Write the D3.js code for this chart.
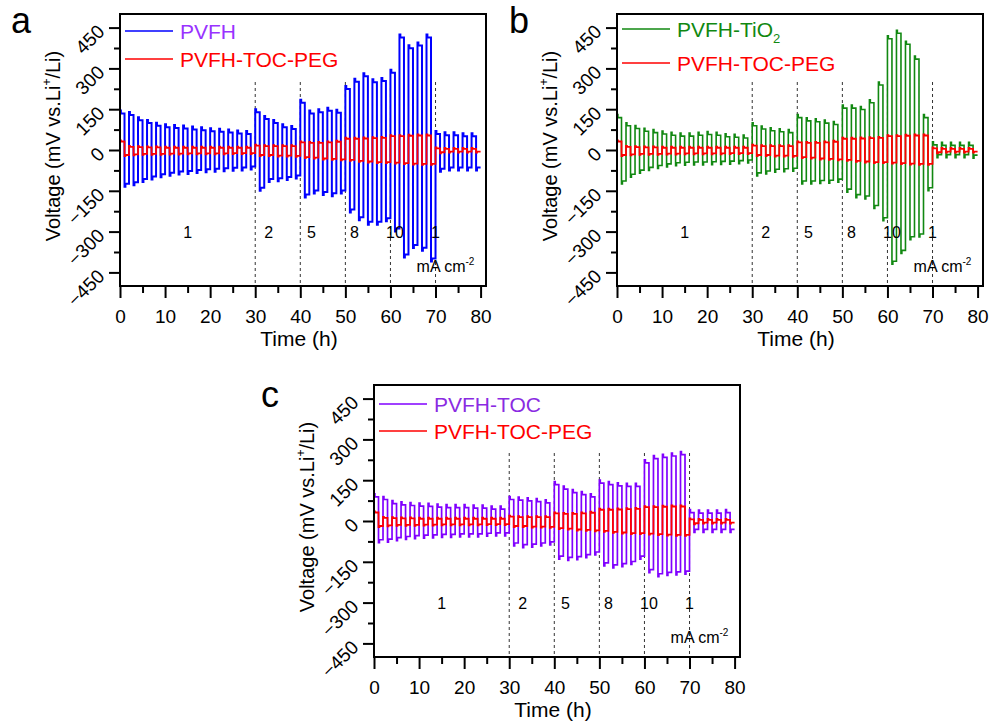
<!DOCTYPE html>
<html>
<head>
<meta charset="utf-8">
<script src="https://cdn.jsdelivr.net/npm/d3@7"></script>
<style>
  body { margin: 0; background: #ffffff; }
  text { font-family: "Liberation Sans", Arial, sans-serif; }
</style>
</head>
<body>
<svg id="mainsvg" width="993" height="724"></svg>
<script>

// axis ticks and rate annotations
const timeTicks = [0, 10, 20, 30, 40, 50, 60, 70, 80]
const timeMinor = [5, 15, 25, 35, 45, 55, 65, 75]
const voltTicks = [-450, -300, -150, 0, 150, 300, 450]
const voltMinor = [-375, -225, -75, 75, 225, 375]
const rateSwitch = [30, 40, 50, 60, 70]
const rateLabels = ["1", "2", "5", "8", "10", "1"]
const rateLabelTime = [15, 33, 42.5, 52, 61, 70]

// peak voltage (mV) of each charge / discharge half cycle, one cycle = 2 h
const pvfhUp = [145, 140, 120, 110, 100, 95, 92, 90, 86, 84, 80, 78, 75, 72, 70,
  150, 125, 110, 95, 88, 185, 145, 150, 155, 148, 235, 262, 282, 260, 265,
  295, 425, 385, 395, 425, 70, 65, 65, 62, 62]
const pvfhDown = [-135, -130, -118, -108, -100, -95, -90, -88, -85, -82, -80, -78, -76, -75, -72,
  -150, -118, -115, -110, -105, -175, -160, -165, -170, -160, -230, -258, -275, -275, -262,
  -300, -395, -360, -370, -410, -80, -75, -75, -75, -75]

const tio2Up = [130, 100, 90, 80, 75, 70, 65, 62, 62, 65, 68, 65, 60, 58, 55,
  100, 88, 82, 78, 75, 130, 118, 115, 110, 105, 165, 165, 160, 185, 250,
  420, 440, 400, 345, 130, 30, 28, 28, 28, 28]
const tio2Down = [-125, -100, -85, -75, -68, -62, -58, -56, -55, -55, -54, -53, -52, -50, -48,
  -95, -88, -82, -80, -78, -125, -125, -123, -122, -118, -155, -175, -180, -215, -260,
  -420, -380, -330, -320, -150, -28, -28, -28, -28, -30]

const tocUp = [100, 90, 75, 70, 68, 66, 65, 62, 60, 60, 60, 58, 58, 55, 55,
  90, 88, 85, 82, 78, 145, 128, 115, 108, 100, 150, 145, 140, 138, 138,
  225, 240, 245, 250, 255, 42, 40, 40, 40, 42]
const tocDown = [-80, -78, -72, -68, -65, -63, -62, -60, -60, -58, -58, -58, -56, -55, -55,
  -92, -98, -96, -92, -88, -140, -145, -142, -135, -125, -165, -172, -168, -160, -140,
  -190, -205, -200, -198, -195, -42, -42, -42, -42, -42]

const pegUp = [35, 15, 14, 13, 13, 12, 12, 12, 12, 12, 12, 12, 12, 12, 12,
  20, 18, 18, 18, 18, 32, 30, 30, 32, 34, 45, 45, 46, 47, 48,
  55, 55, 56, 57, 57, 10, 8, 8, 8, 8]
const pegDown = [-22, -20, -18, -18, -18, -17, -17, -16, -16, -16, -16, -16, -15, -15, -15,
  -22, -22, -24, -24, -25, -30, -32, -35, -36, -38, -40, -44, -46, -48, -48,
  -50, -52, -54, -55, -55, -12, -10, -10, -10, -10]

const WIDTH = 366, HEIGHT = 272

const PEG = {name: "PVFH-TOC-PEG", up: pegUp, down: pegDown, color: "#FF0000", text: "#FF0000", lw: 1.8, hook: 1}

const PANELS = [
  {letter: "a", left: 120, top: 14, lx: -109, ly: 19, legY: [17, 45], textY: [25, 53],
   main: {name: "PVFH", up: pvfhUp, down: pvfhDown, color: "#0000FF", text: "#9933FF", lw: 2, hook: 3}},
  {letter: "b", left: 617, top: 14, lx: -108, ly: 19, legY: [15, 49], textY: [23, 57],
   main: {name: "PVFH-TiO", sub: "2", up: tio2Up, down: tio2Down, color: "#118811", text: "#118811", lw: 1.6, hook: 3}},
  {letter: "c", left: 374, top: 385, lx: -113, ly: 22, legY: [19, 46], textY: [27, 54],
   main: {name: "PVFH-TOC", up: tocUp, down: tocDown, color: "#8000FF", text: "#8A2BE2", lw: 1.7, hook: 3}}
]

function stepPoints (s) {
  let pts = []
  s.up.forEach((u, i) => {
    let t0 = i * 2
    let d = s.down[i]
    pts.push({t: t0, v: u, dy: 0}, {t: t0 + 0.2, v: u, dy: 0},
             {t: t0 + 0.2, v: u, dy: s.hook}, {t: t0 + 1, v: u, dy: s.hook})
    pts.push({t: t0 + 1, v: d, dy: 0}, {t: t0 + 1.2, v: d, dy: 0},
             {t: t0 + 1.2, v: d, dy: -s.hook}, {t: t0 + 2, v: d, dy: -s.hook})
  })
  return pts
}

function renderPanel (svg, p) {
  let g = svg.append("g").attr("transform", `translate(${p.left}, ${p.top})`)

  let x = d3.scaleLinear().domain([0, 81.2]).range([0, WIDTH])
  let y = d3.scaleLinear().domain([-500, 500]).range([HEIGHT, 0])

  // dashed rate boundaries
  g.selectAll(".rateline")
    .data(rateSwitch)
    .enter()
    .append("line")
    .attr("x1", d => x(d)).attr("x2", d => x(d))
    .attr("y1", y(250)).attr("y2", HEIGHT)
    .attr("stroke", "#333333")
    .attr("stroke-width", 1)
    .attr("stroke-dasharray", "3,3")

  let line = d3.line()
    .x(d => x(d.t))
    .y(d => y(d.v) + d.dy)

  ;[p.main, PEG].forEach(s => {
    g.append("path")
      .datum(stepPoints(s))
      .attr("fill", "none")
      .attr("stroke", s.color)
      .attr("stroke-width", s.lw)
      .attr("d", line)
  })

  // rate labels
  g.selectAll(".rate")
    .data(rateLabels)
    .enter()
    .append("text")
    .attr("x", (d, i) => x(rateLabelTime[i]))
    .attr("y", y(-325))
    .attr("text-anchor", "middle")
    .attr("font-size", "16px")
    .text(d => d)

  let unit = g.append("text")
    .attr("x", x(65.8))
    .attr("y", y(-447))
    .attr("font-size", "16px")
  unit.append("tspan").text("mA cm")
  unit.append("tspan").attr("font-size", "10px").attr("dy", -7).text("-2")

  // axes
  let xAxis = g.append("g")
    .attr("transform", `translate(0, ${HEIGHT})`)
    .call(d3.axisBottom(x).tickValues(timeTicks).tickSize(12).tickSizeOuter(0).tickPadding(12))
  g.append("g")
    .attr("transform", `translate(0, ${HEIGHT})`)
    .call(d3.axisBottom(x).tickValues(timeMinor).tickSize(7).tickSizeOuter(0).tickFormat(""))
  let yAxis = g.append("g")
    .call(d3.axisLeft(y).tickValues(voltTicks).tickSize(11).tickSizeOuter(0))
  g.append("g")
    .call(d3.axisLeft(y).tickValues(voltMinor).tickSize(6).tickSizeOuter(0).tickFormat(""))

  g.selectAll(".domain").remove()
  g.selectAll(".tick line").attr("stroke", "#000").attr("stroke-width", 2)
  xAxis.selectAll("text").attr("font-size", "19px").attr("fill", "#000")
    .attr("font-family", "Liberation Sans, Arial, sans-serif")
  yAxis.selectAll("text")
    .attr("font-size", "19px").attr("fill", "#000")
    .attr("font-family", "Liberation Sans, Arial, sans-serif")
    .attr("x", 0).attr("dy", "0.35em")
    .attr("text-anchor", "end")
    .attr("transform", "translate(-19, 0) rotate(-45)")

  g.append("rect")
    .attr("width", WIDTH).attr("height", HEIGHT)
    .attr("fill", "none")
    .attr("stroke", "#000")
    .attr("stroke-width", 2)

  // titles
  g.append("text")
    .attr("x", WIDTH / 2 - 4)
    .attr("y", HEIGHT + 60)
    .attr("text-anchor", "middle")
    .attr("font-size", "21px")
    .text("Time (h)")

  let yt = g.append("text")
    .attr("transform", `translate(-60, ${HEIGHT / 2 - 4}) rotate(-90)`)
    .attr("text-anchor", "middle")
    .attr("font-size", "20px")
  yt.append("tspan").text("Voltage (mV vs.Li")
  yt.append("tspan").attr("font-size", "12px").attr("dy", -9).text("+")
  yt.append("tspan").attr("dy", 9).text("/Li)")

  g.append("text")
    .attr("x", p.lx)
    .attr("y", p.ly)
    .attr("font-size", "36px")
    .text(p.letter)

  // legend
  ;[p.main, PEG].forEach((s, i) => {
    g.append("line")
      .attr("x1", 5).attr("x2", 53)
      .attr("y1", p.legY[i]).attr("y2", p.legY[i])
      .attr("stroke", s.color)
      .attr("stroke-width", 1.6)
    let t = g.append("text")
      .attr("x", 60).attr("y", p.textY[i])
      .attr("font-size", "21px")
      .attr("fill", s.text)
    t.append("tspan").text(s.name)
    if (s.sub) t.append("tspan").attr("font-size", "13px").attr("dy", 6).text(s.sub)
  })
}

function renderMainFig () {
  let svg = d3.select("#mainsvg")
  svg.append("rect").attr("width", 993).attr("height", 724).attr("fill", "#ffffff")
  PANELS.forEach(p => renderPanel(svg, p))
}

renderMainFig()
</script>
</body>
</html>
